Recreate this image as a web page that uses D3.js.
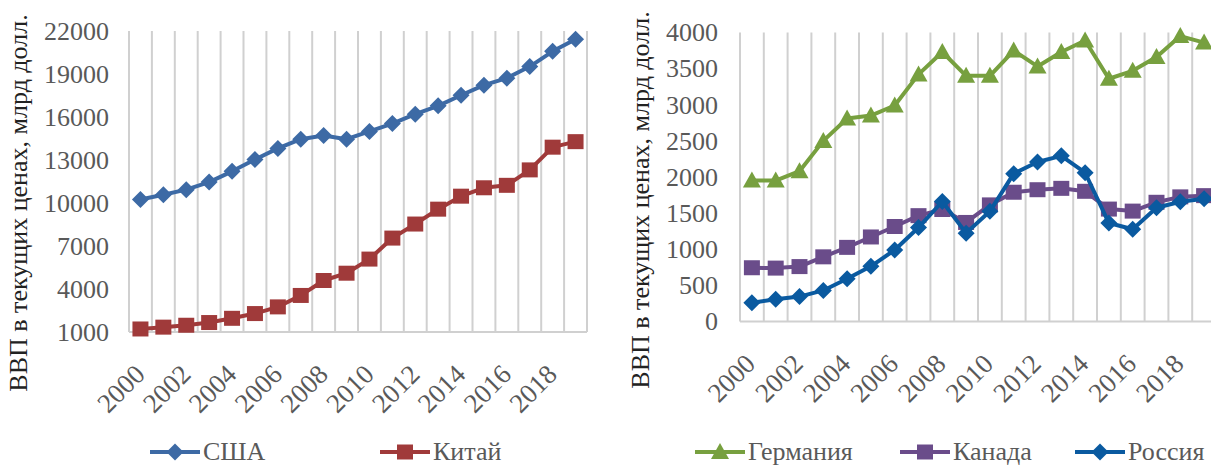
<!DOCTYPE html>
<html>
<head>
<meta charset="utf-8">
<script src="https://cdn.jsdelivr.net/npm/d3@7/dist/d3.min.js"></script>
<style>
  html, body { margin: 0; padding: 0; background: #fff; overflow: hidden; }
  svg { display: block; }
  svg text { font-family: "Liberation Serif", "DejaVu Serif", "Times New Roman", Times, serif !important; }
</style>
</head>
<body>
<svg id="chart" width="1211" height="466"></svg>
<script>
// ---- data ----
const years = [2000,2001,2002,2003,2004,2005,2006,2007,2008,2009,2010,2011,2012,2013,2014,2015,2016,2017,2018,2019];
const yearTickLabels = [2000,2002,2004,2006,2008,2010,2012,2014,2016,2018];

const usa = [10250,10580,10930,11460,12210,13040,13810,14450,14710,14450,14990,15540,16200,16780,17520,18220,18710,19520,20580,21430];
const china = [1211,1339,1471,1660,1955,2286,2752,3550,4594,5102,6087,7552,8532,9570,10476,11062,11233,12310,13895,14280];

const germany = [1950,1950,2080,2500,2810,2850,2990,3420,3730,3400,3400,3750,3530,3730,3890,3360,3470,3660,3950,3860];
const canada = [744,739,760,895,1026,1170,1315,1465,1550,1371,1614,1789,1824,1843,1802,1556,1528,1650,1725,1742];
const russia = [260,307,345,430,591,764,990,1300,1661,1223,1525,2046,2208,2293,2059,1363,1277,1575,1657,1700];

const leftTicks = [1000,4000,7000,10000,13000,16000,19000,22000];
const rightTicks = [0,500,1000,1500,2000,2500,3000,3500,4000];

const yTitle = "ВВП в текущих ценах, млрд долл.";

const leftSeries = [
  {name: "США", values: usa, color: "#3D6AA5", marker: "diamond"},
  {name: "Китай", values: china, color: "#A03A3A", marker: "square"}
];
const rightSeries = [
  {name: "Германия", values: germany, color: "#77A03F", marker: "triangle"},
  {name: "Канада", values: canada, color: "#6A4C8A", marker: "square"},
  {name: "Россия", values: russia, color: "#0A5AA0", marker: "diamond"}
];

// ---- drawing ----
const svg = d3.select("#chart");
const GRID = "#D0D0D0";
const TICK_TEXT = "#595959";
const FONT = 26;

function markerPath(type) {
  if (type === "diamond") return "M0,-8.5L8.5,0L0,8.5L-8.5,0Z";
  if (type === "square") return "M-8,-7.5H8V7.5H-8Z";
  if (type === "triangle") return "M0,-9L9,7H-9Z";
  return "";
}

function drawPanel(cfg) {
  const g = svg.append("g");
  const x = d3.scaleBand().domain(years).range([cfg.x0, cfg.x1]).padding(0);
  const y = d3.scaleLinear().domain(cfg.domain).range([cfg.yb, cfg.yt]);

  const bounds = years.map(d => x(d)).concat([x(years[years.length-1]) + x.bandwidth()]);
  g.append("g").selectAll("line").data(bounds).join("line")
    .attr("x1", d => d).attr("x2", d => d)
    .attr("y1", cfg.yt).attr("y2", cfg.yb)
    .attr("stroke", GRID).attr("stroke-width", 2);
  g.append("line").attr("x1", cfg.x0).attr("x2", cfg.x1)
    .attr("y1", cfg.yb).attr("y2", cfg.yb)
    .attr("stroke", GRID).attr("stroke-width", 2);

  const ya = g.append("g").attr("transform", `translate(${cfg.x0},0)`)
    .call(d3.axisLeft(y).tickValues(cfg.ticks).tickSize(0).tickPadding(cfg.tickPad).tickFormat(d3.format("d")));
  ya.select(".domain").remove();
  ya.attr("font-family", null).attr("font-size", null);
  ya.selectAll("text").attr("font-size", FONT).attr("fill", TICK_TEXT);

  const xa = g.append("g").attr("transform", `translate(0,${cfg.yb})`)
    .call(d3.axisBottom(x).tickValues(yearTickLabels).tickSize(0));
  xa.select(".domain").remove();
  xa.attr("font-family", null).attr("font-size", null);
  xa.selectAll("text")
    .attr("font-size", 27).attr("fill", TICK_TEXT)
    .attr("text-anchor", "end")
    .attr("dy", null).attr("y", 0)
    .attr("transform", `translate(${cfg.lblDx},${cfg.lblDy}) rotate(-45)`);

  g.append("text")
    .attr("transform", `translate(${cfg.titleX},${cfg.titleY}) rotate(-90)`)
    .attr("text-anchor", "middle")
    .attr("font-size", FONT).attr("fill", "#222")
    .text(yTitle);

  const cx = d => x(d) + x.bandwidth() / 2;
  cfg.series.forEach(s => {
    const line = d3.line().x((d, i) => cx(years[i])).y(d => y(d));
    g.append("path").datum(s.values)
      .attr("d", line).attr("fill", "none")
      .attr("stroke", s.color).attr("stroke-width", 4).attr("stroke-linejoin", "round");
    g.append("g").selectAll("path").data(s.values).join("path")
      .attr("d", markerPath(s.marker))
      .attr("transform", (d, i) => `translate(${cx(years[i])},${y(d)})`)
      .attr("fill", s.color);
  });

  cfg.series.forEach((s, i) => {
    const lx = cfg.legendX[i], ly = 452;
    const lg = g.append("g");
    lg.append("line").attr("x1", lx).attr("x2", lx + 50).attr("y1", ly).attr("y2", ly)
      .attr("stroke", s.color).attr("stroke-width", 4);
    lg.append("path").attr("d", markerPath(s.marker))
      .attr("transform", `translate(${lx + 25},${ly})`).attr("fill", s.color);
    lg.append("text").attr("x", lx + 53).attr("y", ly + 8)
      .attr("font-size", FONT).attr("fill", TICK_TEXT).text(s.name);
  });
}

drawPanel({
  x0: 129, x1: 587, yt: 31, yb: 332, domain: [1000, 22000], ticks: leftTicks,
  tickPad: 20, lblDx: 6, lblDy: 44, titleX: 27, titleY: 203,
  series: leftSeries, legendX: [150, 380]
});
drawPanel({
  x0: 740, x1: 1216, yt: 32.5, yb: 321.5, domain: [0, 4000], ticks: rightTicks,
  tickPad: 22, lblDx: 5, lblDy: 44, titleX: 649, titleY: 200,
  series: rightSeries, legendX: [695, 900, 1075]
});
</script>
</body>
</html>
